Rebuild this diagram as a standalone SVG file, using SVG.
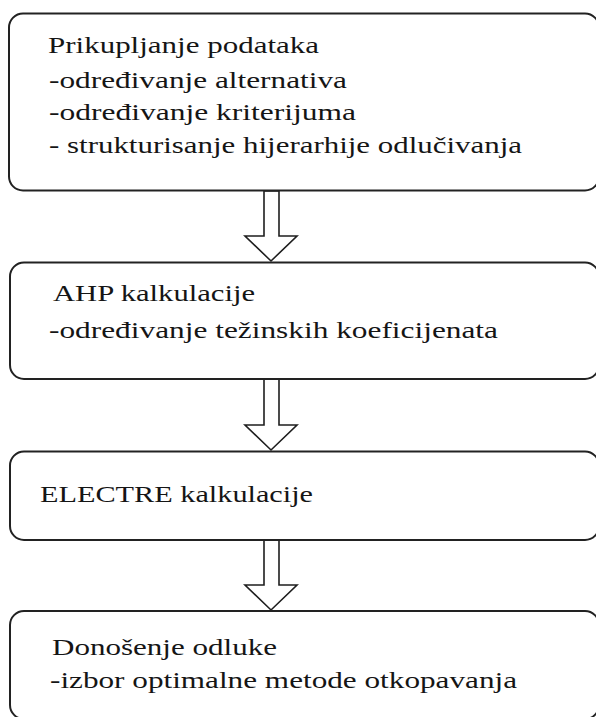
<svg xmlns="http://www.w3.org/2000/svg" width="596" height="717" viewBox="0 0 596 717">
<style>
.box{fill:#ffffff;stroke:#222222;stroke-width:2}
.arrow{fill:#ffffff;stroke:#1e1e1e;stroke-width:1.6;stroke-linejoin:miter}
.t{font-family:"Liberation Serif","Times New Roman",serif;font-size:23px;fill:#151515}
</style>
<rect width="596" height="717" fill="#ffffff"/>
<g id="connectors">
<polygon class="arrow" points="264,191 264,236 245,236 271,261 297,236 279,236 279,191"/>
<polygon class="arrow" points="264,379 264,425 245,425 271,450 297,425 279,425 279,379"/>
<polygon class="arrow" points="264,540 264,585 245,585 271,610 297,585 279,585 279,540"/>
</g>
<g id="node-prikupljanje">
<rect class="box" x="9" y="13.5" width="590" height="177" rx="14" ry="14"/>
<text class="t" x="48" y="53" textLength="271" lengthAdjust="spacingAndGlyphs">Prikupljanje podataka</text>
<text class="t" x="49" y="88" textLength="298" lengthAdjust="spacingAndGlyphs">-određivanje alternativa</text>
<text class="t" x="49" y="120" textLength="307" lengthAdjust="spacingAndGlyphs">-određivanje kriterijuma</text>
<text class="t" x="49" y="153" textLength="473" lengthAdjust="spacingAndGlyphs">- strukturisanje hijerarhije odlučivanja</text>
</g>
<g id="node-ahp">
<rect class="box" x="10" y="262.5" width="589" height="116.5" rx="14" ry="14"/>
<text class="t" x="53" y="301" textLength="202" lengthAdjust="spacingAndGlyphs">AHP kalkulacije</text>
<text class="t" x="49" y="338" textLength="449" lengthAdjust="spacingAndGlyphs">-određivanje težinskih koeficijenata</text>
</g>
<g id="node-electre">
<rect class="box" x="10" y="451.5" width="589" height="88.5" rx="14" ry="14"/>
<text class="t" x="40" y="502" textLength="273" lengthAdjust="spacingAndGlyphs">ELECTRE kalkulacije</text>
</g>
<g id="node-odluka">
<rect class="box" x="10" y="611" width="589" height="108" rx="14" ry="14"/>
<text class="t" x="52" y="655" textLength="225" lengthAdjust="spacingAndGlyphs">Donošenje odluke</text>
<text class="t" x="50" y="688" textLength="467" lengthAdjust="spacingAndGlyphs">-izbor optimalne metode otkopavanja</text>
</g>
</svg>
